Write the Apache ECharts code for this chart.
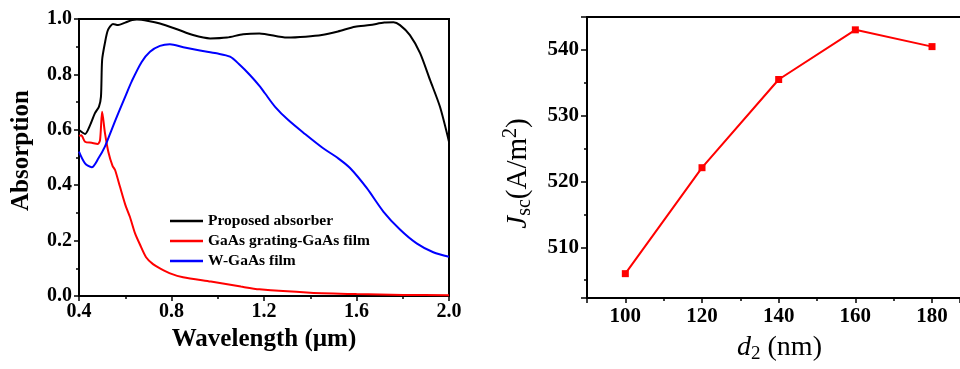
<!DOCTYPE html>
<html>
<head>
<meta charset="utf-8">
<script src="https://cdn.jsdelivr.net/npm/echarts@6/dist/echarts.min.js"></script>
<style>
html,body{margin:0;padding:0;background:#fff;}
#c{width:960px;height:369px;}
</style>
</head>
<body>
<div id="c"></div>
<script>
// ---- Left panel: absorption spectra ----
const propX = [0.40,0.426,0.448,0.469,0.486,0.495,0.50,0.512,0.525,0.547,0.569,0.60,0.63,0.65,0.70,0.75,0.824,0.893,0.967,1.04,1.11,1.18,1.30,1.38,1.45,1.52,1.594,1.658,1.72,1.76,1.788,1.831,1.875,1.918,1.961,2.0];
const propY = [0.599,0.585,0.617,0.66,0.683,0.72,0.852,0.913,0.96,0.982,0.978,0.987,0.996,0.998,0.993,0.984,0.963,0.942,0.930,0.933,0.945,0.948,0.933,0.936,0.942,0.955,0.972,0.978,0.987,0.988,0.978,0.942,0.877,0.78,0.683,0.557];

const gratX = [0.40,0.41,0.426,0.455,0.481,0.491,0.50,0.512,0.527,0.545,0.556,0.577,0.60,0.62,0.642,0.664,0.69,0.72,0.75,0.80,0.85,0.97,1.10,1.18,1.40,1.60,1.80,2.0];
const gratY = [0.578,0.58,0.557,0.553,0.549,0.563,0.665,0.59,0.52,0.47,0.455,0.395,0.33,0.286,0.227,0.185,0.14,0.115,0.1,0.08,0.068,0.052,0.034,0.024,0.012,0.007,0.004,0.003];

const wX = [0.40,0.426,0.455,0.484,0.512,0.541,0.57,0.60,0.628,0.671,0.707,0.75,0.793,0.851,0.923,0.995,1.053,1.096,1.139,1.183,1.204,1.248,1.305,1.377,1.45,1.521,1.572,1.644,1.716,1.788,1.86,1.932,2.0];
const wY = [0.521,0.479,0.465,0.497,0.539,0.6,0.66,0.72,0.775,0.845,0.882,0.903,0.909,0.898,0.886,0.876,0.864,0.834,0.798,0.756,0.732,0.683,0.635,0.585,0.537,0.497,0.462,0.39,0.305,0.24,0.19,0.158,0.142];

const seriesNames = ['Proposed absorber', 'GaAs grating-GaAs film', 'W-GaAs film'];

// ---- Right panel: Jsc vs d2 ----
const d2 = [100, 120, 140, 160, 180];
const jsc = [506.0, 522.1, 535.5, 543.05, 540.5];

const zip = (a, b) => a.map((v, i) => [v, b[i]]);

const serif = '"Liberation Serif", "Times New Roman", serif';
const axisLineStyle = { color: '#000', width: 2 };

const chart = echarts.init(document.getElementById('c'), null, { renderer: 'canvas' });

const option = {
  animation: false,
  backgroundColor: '#fff',
  grid: [
    { left: 79, top: 19, right: 511, bottom: 73, show: true, borderColor: '#000', borderWidth: 2, backgroundColor: 'transparent' },
    { left: 587, top: 17, right: 0, bottom: 66, show: false }
  ],
  legend: {
    data: seriesNames,
    orient: 'vertical',
    left: 165,
    top: 208,
    icon: 'rect',
    itemWidth: 33,
    itemHeight: 2.5,
    itemGap: 4,
    textStyle: { fontFamily: serif, fontWeight: 'bold', fontSize: 15.5, color: '#000', lineHeight: 14 }
  },
  xAxis: [
    {
      gridIndex: 0, type: 'value', min: 0.4, max: 2.0, interval: 0.4,
      name: 'Wavelength (µm)', nameLocation: 'middle', nameGap: 30,
      nameTextStyle: { fontFamily: serif, fontWeight: 'bold', fontSize: 25, color: '#000' },
      axisLine: { lineStyle: axisLineStyle },
      axisTick: { show: true, inside: false, length: 5, lineStyle: { color: '#000', width: 1.5 } },
      minorTick: { show: true, splitNumber: 2, length: 3, lineStyle: { color: '#000', width: 1.5 } },
      splitLine: { show: false },
      axisLabel: { fontFamily: serif, fontWeight: 'bold', fontSize: 20, color: '#000', margin: 6,
        formatter: v => v.toFixed(1) }
    },
    {
      gridIndex: 1, type: 'value', min: 90, max: 187.3, splitNumber: 5,
      name: '{i|d}{sub|2}{n| (nm)}', nameLocation: 'middle', nameGap: 33,
      nameTextStyle: {
        color: '#000', padding: [0, 0, 0, 12],
        rich: {
          i: { fontFamily: serif, fontStyle: 'italic', fontSize: 28, color: '#000' },
          sub: { fontFamily: serif, fontSize: 19, color: '#000', padding: [14, 0, 0, 0] },
          n: { fontFamily: serif, fontSize: 28, color: '#000' }
        }
      },
      axisLine: { lineStyle: axisLineStyle },
      axisTick: { show: true, inside: false, length: 5, lineStyle: { color: '#000', width: 1.5 } },
      minorTick: { show: true, splitNumber: 2, length: 3, lineStyle: { color: '#000', width: 1.5 } },
      splitLine: { show: false },
      axisLabel: { fontFamily: serif, fontWeight: 'bold', fontSize: 21, color: '#000', margin: 8,
        showMinLabel: false, showMaxLabel: false }
    },
    {
      gridIndex: 1, type: 'value', position: 'top', min: 90, max: 187.3,
      axisLine: { show: true, lineStyle: axisLineStyle },
      axisTick: { show: false }, axisLabel: { show: false }, splitLine: { show: false }
    }
  ],
  yAxis: [
    {
      gridIndex: 0, type: 'value', min: 0, max: 1.0, interval: 0.2,
      name: 'Absorption', nameLocation: 'middle', nameGap: 45,
      nameTextStyle: { fontFamily: serif, fontWeight: 'bold', fontSize: 25, color: '#000', padding: [0, 0, 0, 14] },
      axisLine: { lineStyle: axisLineStyle },
      axisTick: { show: true, inside: false, length: 5, lineStyle: { color: '#000', width: 1.5 } },
      minorTick: { show: true, splitNumber: 2, length: 3, lineStyle: { color: '#000', width: 1.5 } },
      splitLine: { show: false },
      axisLabel: { fontFamily: serif, fontWeight: 'bold', fontSize: 20, color: '#000', margin: 7,
        formatter: v => v.toFixed(1) }
    },
    {
      gridIndex: 1, type: 'value', min: 502.3, max: 545, splitNumber: 4,
      name: '{i|J}{sub|sc}{n|(A/m}{sup|2}{n|)}', nameLocation: 'middle', nameGap: 52,
      nameTextStyle: {
        color: '#000', padding: [0, 32, 0, 0],
        rich: {
          i: { fontFamily: serif, fontStyle: 'italic', fontSize: 29, color: '#000' },
          sub: { fontFamily: serif, fontSize: 20, color: '#000', padding: [14, 0, 0, 0] },
          sup: { fontFamily: serif, fontSize: 20, color: '#000', padding: [0, 0, 14, 0] },
          n: { fontFamily: serif, fontSize: 29, color: '#000' }
        }
      },
      axisLine: { lineStyle: axisLineStyle },
      axisTick: { show: true, inside: false, length: 6, lineStyle: { color: '#000', width: 1.5 } },
      minorTick: { show: true, splitNumber: 2, length: 3, lineStyle: { color: '#000', width: 1.5 } },
      splitLine: { show: false },
      axisLabel: { fontFamily: serif, fontWeight: 'bold', fontSize: 21, color: '#000', margin: 8,
        showMinLabel: false, showMaxLabel: false }
    }
  ],
  series: [
    { name: seriesNames[0], type: 'line', xAxisIndex: 0, yAxisIndex: 0, data: zip(propX, propY),
      showSymbol: false, symbol: 'none', smooth: 0.25, lineStyle: { color: '#000', width: 2 }, itemStyle: { color: '#000' } },
    { name: seriesNames[1], type: 'line', xAxisIndex: 0, yAxisIndex: 0, data: zip(gratX, gratY),
      showSymbol: false, symbol: 'none', smooth: 0.25, lineStyle: { color: '#ff0000', width: 2 }, itemStyle: { color: '#ff0000' } },
    { name: seriesNames[2], type: 'line', xAxisIndex: 0, yAxisIndex: 0, data: zip(wX, wY),
      showSymbol: false, symbol: 'none', smooth: 0.3, lineStyle: { color: '#0000ff', width: 2 }, itemStyle: { color: '#0000ff' } },
    { name: 'Jsc', type: 'line', xAxisIndex: 1, yAxisIndex: 1, data: zip(d2, jsc),
      symbol: 'rect', symbolSize: 7, lineStyle: { color: '#ff0000', width: 2 }, itemStyle: { color: '#ff0000' } }
  ]
};
chart.setOption(option);
</script>
</body>
</html>
